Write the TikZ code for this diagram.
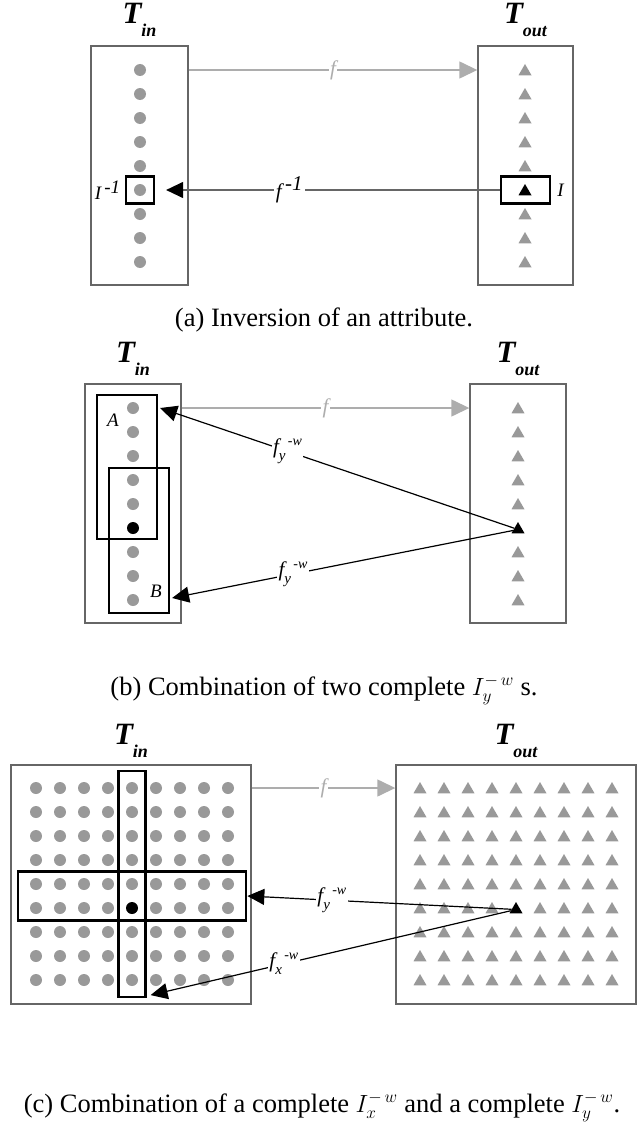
\documentclass[tikz,border=0pt]{standalone}
\usepackage{fontspec}
\setmainfont{Liberation Serif}
\usetikzlibrary{arrows.meta, positioning, shapes.geometric, calc}
\definecolor{boxgrey}{gray}{0.4}
\definecolor{dotgrey}{gray}{0.6}
\definecolor{mapgrey}{gray}{0.68}

\begin{document}
\begin{tikzpicture}[x=1pt, y=-1pt,
  tablebox/.style={draw=boxgrey, line width=1.4pt, inner sep=0pt, minimum height=239pt},
  dotg/.style={circle, fill=dotgrey, inner sep=0pt, minimum size=12pt},
  dotk/.style={dotg, fill=black},
  trig/.style={regular polygon, regular polygon sides=3, fill=dotgrey, inner sep=0pt, minimum size=15pt, yshift=-1.5pt},
  trik/.style={trig, fill=black},
  selbox/.style={draw=black, line width=2.2pt, inner sep=0pt},
  fwd/.style={draw=mapgrey, line width=1.4pt, -{Triangle[length=18pt,width=17pt]}},
  inv/.style={draw=black, line width=1.2pt, -{Triangle[length=17pt,width=16pt]}},
  tlbl/.style={anchor=base, font=\fontsize{31}{33}\selectfont\bfseries\itshape},
  lbl/.style={fill=white, inner sep=1.5pt, font=\fontsize{21}{24}\selectfont\itshape},
  letter/.style={inner sep=0pt, font=\fontsize{19}{22}\selectfont\itshape},
  capt/.style={anchor=base, font=\fontsize{26.5}{30}\selectfont}]
\useasboundingbox (0,0) rectangle (637,1124);

% (a) inversion of an attribute
\node[tablebox, minimum width=97pt] (ain) at (139.5,165.5) {};
\node[tablebox, minimum width=95pt] (aout) at (525.5,165.5) {};
\node[tlbl] (atin) at ([yshift=22pt]ain.north) {T\raisebox{-13pt}{\fontsize{18}{18}\selectfont in}};
\node[tlbl] (atout) at ([yshift=22pt]aout.north) {T\raisebox{-13pt}{\fontsize{18}{18}\selectfont out}};
\foreach \i in {1,...,9} {
  \ifnum\i=6 \def\tst{trik}\else\def\tst{trig}\fi
  \node[dotg] (ad\i) at (140,{46+24*\i}) {};
  \node[\tst] (at\i) at (525,{46+24*\i}) {};
}
\node[selbox, minimum width=28pt, minimum height=27pt] (asel) at (ad6) {};
\node[selbox, minimum width=49pt, minimum height=27pt] (aosel) at (ad6 -| aout) {};
\node[letter, left=4pt of asel] (ailab) {I\,$^{\textit{-1}}$};
\node[letter, right=6pt of aosel] (aolab) {I};
\draw[fwd] (ain.east |- ad1) -- node[lbl, text=mapgrey] (af) {f} (aout.west |- ad1);
\draw[inv, draw=black!60, -{Triangle[length=17pt,width=16pt,color=black,fill=black]}, shorten >=11pt]
  (aosel) -- node[lbl, pos=0.61] (afinv) {f\,$^{\textit{-1}}$} (asel);
\node[capt] (capa) at (324,326) {(a) Inversion of an attribute.};

% (b) two complete I_y^{-w}
\node[tablebox, minimum width=96pt] (bin) at (133,503.5) {};
\node[tablebox, minimum width=96pt] (bout) at (518,503.5) {};
\node[tlbl] (btin) at ([yshift=21pt]bin.north) {T\raisebox{-13pt}{\fontsize{18}{18}\selectfont in}};
\node[tlbl] (btout) at ([yshift=21pt]bout.north) {T\raisebox{-13pt}{\fontsize{18}{18}\selectfont out}};
\foreach \i in {1,...,9} {
  \ifnum\i=6 \def\dst{dotk}\def\tst{trik}\else\def\dst{dotg}\def\tst{trig}\fi
  \node[\dst] (bd\i) at (133,{384+24*\i}) {};
  \node[\tst] (bt\i) at (518,{384+24*\i}) {};
}
\node[selbox, minimum width=60pt, minimum height=144pt] (bA) at (127,467) {};
\node[selbox, minimum width=60pt, minimum height=145pt] (bB) at (139,540.5) {};
\node[letter] (bAl) at (113,420) {A};
\node[letter] (bBl) at (156,591) {B};
\coordinate (bAtip) at ($(bA.east |- bd1)+(2,0)$);
\coordinate (bBtip) at ($(bB.east |- bd9)+(2,-2)$);
\draw[fwd] (bin.east |- bd1) -- node[lbl, text=mapgrey] (bf) {f} (bout.west |- bd1);
\draw[inv] (bt6) -- node[lbl, pos=0.64] (bfa)
  {f\raisebox{-7pt}{\fontsize{15}{15}\selectfont y}\raisebox{8pt}{\fontsize{14}{14}\selectfont\,-w}} (bAtip);
\draw[inv] (bt6) -- node[lbl, pos=0.645] (bfb)
  {f\raisebox{-7pt}{\fontsize{15}{15}\selectfont y}\raisebox{8pt}{\fontsize{14}{14}\selectfont\,-w}} (bBtip);
\node[capt] (capb) at (324,695) {(b) Combination of two complete $I_y^{-\,w}$ s.};

% (c) a complete I_x^{-w} and a complete I_y^{-w}
\node[tablebox, minimum width=240pt] (cin) at (131,884.5) {};
\node[tablebox, minimum width=240pt] (cout) at (516,884.5) {};
\node[tlbl] (ctin) at ([yshift=20pt]cin.north) {T\raisebox{-13pt}{\fontsize{18}{18}\selectfont in}};
\node[tlbl] (ctout) at ([yshift=20pt]cout.north) {T\raisebox{-13pt}{\fontsize{18}{18}\selectfont out}};
\foreach \r in {1,...,9} {
  \foreach \c in {1,...,9} {
    \ifnum\r\c=65 \def\dst{dotk}\def\tst{trik}\else\def\dst{dotg}\def\tst{trig}\fi
    \node[\dst] (cd\r\c) at ({12+24*\c},{764+24*\r}) {};
    \node[\tst] (ct\r\c) at ({396+24*\c},{764+24*\r}) {};
  }
}
\node[selbox, minimum width=27pt, minimum height=226pt] (cv) at (cd55) {};
\node[selbox, minimum width=228.5pt, minimum height=49pt] (ch) at ($(cd55)!0.5!(cd65)$) {};
\coordinate (cxtip) at ($(cv.south east)+(4,-3)$);
\draw[fwd] (cin.east |- cd11) -- node[lbl, text=mapgrey] (cf) {f} (cout.west |- cd11);
\draw[inv] (ct65) -- node[lbl, pos=0.68] (cfy)
  {f\raisebox{-7pt}{\fontsize{15}{15}\selectfont y}\raisebox{8pt}{\fontsize{14}{14}\selectfont\,-w}} (ch.east);
\draw[inv] (ct65) -- node[lbl, pos=0.63] (cfx)
  {f\raisebox{-7pt}{\fontsize{15}{15}\selectfont x}\raisebox{8pt}{\fontsize{14}{14}\selectfont\,-w}} (cxtip);
\node[capt] (capc) at (322,1112) {(c) Combination of a complete $I_x^{-\,w}$ and a complete $I_y^{-\,w}$.};
\end{tikzpicture}
\end{document}
